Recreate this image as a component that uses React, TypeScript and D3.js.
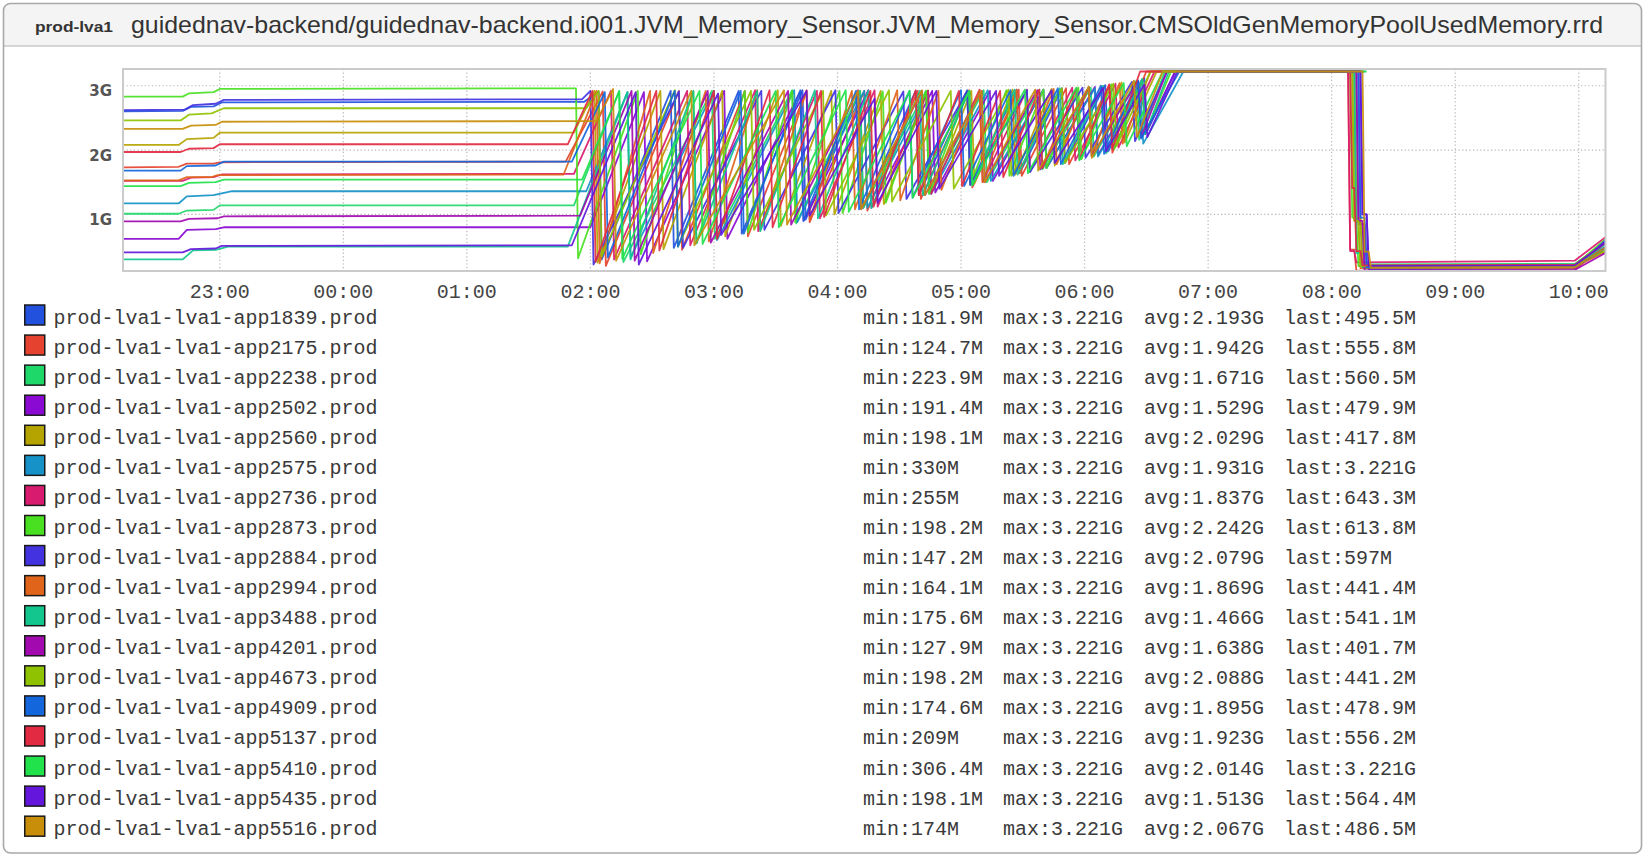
import React from 'react';
import * as d3 from 'd3';

// ---------- data ----------
const hostNames = [
  'prod-lva1-lva1-app1839.prod', 'prod-lva1-lva1-app2175.prod', 'prod-lva1-lva1-app2238.prod',
  'prod-lva1-lva1-app2502.prod', 'prod-lva1-lva1-app2560.prod', 'prod-lva1-lva1-app2575.prod',
  'prod-lva1-lva1-app2736.prod', 'prod-lva1-lva1-app2873.prod', 'prod-lva1-lva1-app2884.prod',
  'prod-lva1-lva1-app2994.prod', 'prod-lva1-lva1-app3488.prod', 'prod-lva1-lva1-app4201.prod',
  'prod-lva1-lva1-app4673.prod', 'prod-lva1-lva1-app4909.prod', 'prod-lva1-lva1-app5137.prod',
  'prod-lva1-lva1-app5410.prod', 'prod-lva1-lva1-app5435.prod', 'prod-lva1-lva1-app5516.prod',
];
const seriesColors = [
  '#2251de', '#e5432f', '#1fd86a', '#8a0ad4', '#b5a300', '#1692c8',
  '#d81b6e', '#4ae022', '#4232e0', '#e0641a', '#12c68e', '#a20ab0',
  '#8fc200', '#1466dd', '#e22a42', '#22e24c', '#6416dc', '#c88e0a',
];
const minLabels = ['181.9M', '124.7M', '223.9M', '191.4M', '198.1M', '330M', '255M', '198.2M', '147.2M',
  '164.1M', '175.6M', '127.9M', '198.2M', '174.6M', '209M', '306.4M', '198.1M', '174M'];
const maxLabels = ['3.221G', '3.221G', '3.221G', '3.221G', '3.221G', '3.221G', '3.221G', '3.221G', '3.221G',
  '3.221G', '3.221G', '3.221G', '3.221G', '3.221G', '3.221G', '3.221G', '3.221G', '3.221G'];
const avgLabels = ['2.193G', '1.942G', '1.671G', '1.529G', '2.029G', '1.931G', '1.837G', '2.242G', '2.079G',
  '1.869G', '1.466G', '1.638G', '2.088G', '1.895G', '1.923G', '2.014G', '1.513G', '2.067G'];
const lastLabels = ['495.5M', '555.8M', '560.5M', '479.9M', '417.8M', '3.221G', '643.3M', '613.8M', '597M',
  '441.4M', '541.1M', '401.7M', '441.2M', '478.9M', '556.2M', '3.221G', '564.4M', '486.5M'];

const hourTicks = ['23:00', '00:00', '01:00', '02:00', '03:00', '04:00', '05:00', '06:00', '07:00', '08:00', '09:00', '10:00'];
const yTickValues = [1, 2, 3];
const yTickLabels = ['1G', '2G', '3G'];

// series points: [minutes since 22:00, value in G], flattened
const s1839 = [13,2.60, 42,2.61, 46,2.67, 57,2.68, 61,2.74, 237,2.75, 244,2.91, 245.5,0.30, 279,2.92, 280.5,0.48, 312,2.92, 313.5,0.70, 343,2.93, 344.5,0.92, 371,2.92, 372.5,1.10, 398,2.92, 399.5,1.30, 423,2.93, 424.5,1.46, 447,2.94, 448.5,1.64, 469,2.96, 470.5,1.80, 490,3.01, 491.5,1.98, 509,3.12, 510.5,2.30, 524,3.221, 612,3.221, 613,0.85, 615,0.85, 616,0.182, 718,0.19, 733,0.4955];
const s2175 = [13,1.73, 40,1.74, 44,1.79, 57,1.79, 60,1.81, 228,1.82, 246,2.91, 247.5,0.20, 283,2.92, 284.5,0.45, 315,2.92, 316.5,0.66, 345,2.93, 346.5,0.88, 373,2.92, 374.5,1.06, 399,2.92, 400.5,1.24, 424,2.93, 425.5,1.42, 448,2.94, 449.5,1.60, 471,2.96, 472.5,1.78, 492,3.01, 493.5,1.96, 510,3.221, 608,3.221, 609,0.45, 611,0.45, 612,0.125, 718,0.13, 733,0.5558];
const s2238 = [13,1.01, 40,1.01, 44,1.06, 57,1.07, 60,1.14, 232,1.14, 254,2.92, 256,0.26, 299,2.92, 300.5,0.62, 338,2.93, 340,0.86, 371,2.92, 372.5,1.10, 403,2.92, 404.5,1.32, 431,2.93, 432.5,1.50, 458,2.94, 459.5,1.70, 483,2.97, 484.5,1.90, 505,3.07, 506.5,2.16, 519,3.221, 611,3.221, 612,0.90, 614,0.90, 615,0.224, 718,0.23, 733,0.5605];
const s2502 = [13,0.62, 40,0.62, 44,0.76, 58,0.77, 62,0.80, 240,0.80, 266,2.90, 267.5,0.27, 305,2.92, 306.5,0.62, 342,2.92, 343.5,0.90, 375,2.93, 376.5,1.10, 406,2.92, 407.5,1.34, 434,2.92, 435.5,1.52, 460,2.94, 461.5,1.72, 485,2.98, 486.5,1.92, 508,3.10, 509.5,2.25, 524,3.221, 613,3.221, 614,0.85, 616,0.85, 617,0.191, 718,0.20, 733,0.4799];
const s2560 = [13,2.08, 40,2.08, 44,2.17, 57,2.19, 60,2.27, 232,2.27, 242,2.92, 243.5,0.25, 274,2.92, 275.5,0.46, 304,2.92, 305.5,0.66, 331,2.93, 332.5,0.82, 357,2.92, 358.5,1.00, 381,2.92, 382.5,1.16, 404,2.93, 405.5,1.34, 425,2.92, 426.5,1.48, 445,2.94, 446.5,1.62, 464,2.95, 465.5,1.76, 482,2.98, 483.5,1.92, 498,3.05, 499.5,2.12, 515,3.221, 611,3.221, 612,0.95, 614,0.95, 615,0.198, 718,0.20, 733,0.4178];
const s2575 = [13,1.17, 40,1.17, 44,1.28, 57,1.30, 66,1.36, 238,1.36, 258,2.90, 259.5,0.33, 300,2.92, 301.5,0.60, 339,2.93, 340.5,0.88, 373,2.92, 374.5,1.10, 404,2.92, 405.5,1.32, 433,2.93, 434.5,1.52, 460,2.94, 461.5,1.72, 485,2.96, 486.5,1.90, 507,3.03, 508.5,2.10, 528,3.221, 616,3.221];
const s2736 = [13,1.52, 42,1.52, 46,1.57, 57,1.58, 61,1.62, 232,1.63, 250,2.92, 251.5,0.30, 287,2.92, 288.5,0.52, 320,2.93, 321.5,0.74, 350,2.92, 351.5,0.94, 378,2.93, 379.5,1.12, 404,2.92, 405.5,1.32, 429,2.94, 430.5,1.50, 452,2.94, 453.5,1.66, 474,2.97, 475.5,1.84, 495,3.03, 496.5,2.04, 514,3.221, 608,3.221, 609,0.43, 611,0.43, 612,0.255, 718,0.28, 733,0.6433];
const s2873 = [13,2.83, 42,2.83, 45,2.88, 57,2.90, 60,2.95, 233,2.96, 234,0.32, 263,2.92, 264.5,0.38, 290,2.91, 291.5,0.55, 315,2.92, 316.5,0.72, 338,2.92, 339.5,0.88, 361,2.92, 362.5,1.02, 382,2.91, 383.5,1.18, 403,2.92, 404.5,1.32, 423,2.92, 424.5,1.46, 442,2.93, 443.5,1.60, 460,2.94, 461.5,1.72, 477,2.97, 478.5,1.86, 493,3.02, 494.5,2.02, 508,3.10, 509.5,2.25, 522,3.221, 609,3.221, 610,0.95, 612,0.95, 613,0.198, 718,0.205, 733,0.614];
const s2884 = [13,2.62, 43,2.63, 47,2.70, 58,2.72, 62,2.78, 236,2.79, 240,2.92, 241.5,0.22, 283,2.91, 285,0.48, 323,2.92, 324.5,0.76, 359,2.93, 360.5,1.02, 392,2.91, 393.5,1.24, 423,2.92, 424.5,1.46, 452,2.93, 453.5,1.66, 479,2.97, 480.5,1.88, 503,3.06, 504.5,2.14, 520,3.221, 614,3.221, 615,1.00, 617,1.00, 618,0.147, 718,0.16, 733,0.597];
const s2994 = [13,1.53, 40,1.53, 44,1.58, 56,1.58, 59,1.61, 227,1.62, 243,2.92, 244.5,0.24, 269,2.92, 270.5,0.40, 296,2.92, 297.5,0.58, 321,2.93, 322.5,0.76, 345,2.92, 346.5,0.92, 367,2.92, 368.5,1.08, 389,2.93, 390.5,1.22, 409,2.92, 410.5,1.38, 429,2.93, 430.5,1.50, 447,2.94, 448.5,1.64, 465,2.95, 466.5,1.78, 482,2.98, 483.5,1.92, 497,3.04, 498.5,2.10, 512,3.221, 610,3.221, 611,0.90, 613,0.90, 614,0.164, 718,0.17, 733,0.4414];
const s3488 = [13,0.30, 42,0.30, 47,0.44, 58,0.45, 64,0.50, 229,0.50, 258,2.90, 259.5,0.30, 290,2.92, 291.5,0.55, 321,2.92, 322.5,0.74, 349,2.93, 350.5,0.94, 375,2.92, 376.5,1.10, 400,2.92, 401.5,1.30, 424,2.92, 425.5,1.45, 446,2.94, 447.5,1.62, 468,2.96, 469.5,1.78, 489,3.00, 490.5,1.95, 508,3.10, 509.5,2.25, 521,3.221, 611,3.221, 612,0.40, 614,0.40, 615,0.176, 718,0.18, 733,0.5411];
const s4201 = [13,0.89, 41,0.89, 45,0.93, 59,0.94, 62,0.97, 235,0.98, 260,2.92, 261.5,0.28, 297,2.92, 298.5,0.56, 336,2.92, 337.5,0.84, 370,2.93, 371.5,1.08, 401,2.92, 402.5,1.30, 430,2.92, 431.5,1.50, 457,2.93, 458.5,1.70, 482,2.97, 483.5,1.90, 506,3.08, 507.5,2.20, 520,3.221, 612,3.221, 613,0.90, 615,0.90, 616,0.128, 718,0.135, 733,0.4017];
const s4673 = [13,2.46, 41,2.46, 45,2.55, 56,2.57, 62,2.65, 238,2.65, 244,2.92, 245.5,0.35, 281,2.93, 282.5,0.50, 318,2.92, 319.5,0.76, 353,2.92, 354.5,0.98, 385,2.93, 386.5,1.20, 415,2.92, 416.5,1.40, 443,2.94, 444.5,1.60, 469,2.96, 470.5,1.80, 494,3.03, 495.5,2.06, 512,3.221, 610,3.221, 611,0.90, 613,0.90, 614,0.198, 718,0.205, 733,0.4412];
const s4909 = [13,1.68, 41,1.68, 44,1.75, 58,1.76, 62,1.82, 231,1.82, 247,2.90, 248.5,0.33, 281,2.92, 282.5,0.50, 313,2.92, 314.5,0.70, 342,2.93, 343.5,0.90, 369,2.92, 370.5,1.08, 395,2.92, 396.5,1.26, 420,2.93, 421.5,1.44, 444,2.93, 445.5,1.60, 467,2.96, 468.5,1.78, 488,3.00, 489.5,1.94, 506,3.08, 507.5,2.18, 526,3.221, 613,3.221, 614,0.95, 616,0.95, 617,0.175, 718,0.18, 733,0.4789];
const s5137 = [13,1.97, 41,1.97, 45,2.02, 57,2.03, 60,2.09, 229,2.09, 241,2.92, 242.5,0.26, 272,2.92, 273.5,0.44, 300,2.92, 301.5,0.62, 327,2.93, 328.5,0.80, 352,2.92, 353.5,0.96, 376,2.92, 377.5,1.12, 398,2.93, 399.5,1.30, 419,2.92, 420.5,1.44, 439,2.92, 440.5,1.58, 458,2.94, 459.5,1.72, 476,2.96, 477.5,1.86, 492,3.02, 493.5,2.02, 507,3.221, 609,3.221, 610,1.41, 611,1.41, 612,0.43, 614,0.43, 615,0.209, 718,0.215, 733,0.5562];
const s5410 = [13,1.44, 41,1.44, 45,1.49, 58,1.50, 62,1.54, 236,1.54, 254,2.91, 255.5,0.31, 293,2.92, 294.5,0.54, 330,2.92, 331.5,0.80, 364,2.93, 365.5,1.04, 395,2.92, 396.5,1.26, 424,2.92, 425.5,1.46, 451,2.94, 452.5,1.64, 476,2.97, 477.5,1.84, 499,3.04, 500.5,2.06, 518,3.221, 617,3.221];
const s5435 = [13,0.41, 42,0.41, 46,0.46, 58,0.47, 61,0.51, 231,0.52, 262,2.90, 263.5,0.22, 302,2.88, 303.5,0.68, 345,2.92, 346.5,0.98, 378,2.80, 379.5,1.18, 408,2.92, 409.5,1.40, 437,2.92, 438.5,1.60, 464,2.93, 465.5,1.80, 489,2.97, 490.5,1.98, 509,3.02, 510.5,2.20, 525,3.221, 614,3.221, 615,1.00, 617,1.00, 618,0.198, 718,0.205, 733,0.5644];
const s5516 = [13,2.33, 42,2.33, 46,2.38, 58,2.39, 61,2.44, 243,2.45, 251,2.95, 252.5,0.28, 289,2.92, 290.5,0.52, 334,2.93, 335.5,0.84, 370,2.92, 371.5,1.08, 401,2.93, 402.5,1.30, 430,2.92, 431.5,1.50, 456,2.94, 457.5,1.68, 482,2.98, 483.5,1.88, 504,3.08, 505.5,2.20, 518,3.221, 615,3.221, 616,0.42, 618,0.42, 619,0.174, 718,0.18, 733,0.4865];

const seriesPoints = [s1839, s2175, s2238, s2502, s2560, s2575, s2736, s2873, s2884,
  s2994, s3488, s4201, s4673, s4909, s5137, s5410, s5435, s5516];

// ---------- layout ----------
const W = 1646;
const H = 856;
const plot = { left: 123, right: 1605.5, top: 69, bottom: 271 };
const base = new Date(2016, 0, 1, 22, 0, 0);
const toDate = (m: number) => new Date(base.getTime() + m * 60000);
const startMin = 13;
const endMin = 733;
const parseTick = (s: string) => {
  const [h, mm] = s.split(':').map(Number);
  return ((h - 22 + 24) % 24) * 60 + mm;
};

const legendTop = 315;
const legendStep = 30.07;
const monoFont = '"Liberation Mono", "DejaVu Sans Mono", monospace';

export default function App() {
  const x = d3.scaleTime().domain([toDate(startMin), toDate(endMin)]).range([plot.left, plot.right]);
  const y = d3.scaleLinear().domain([0.12, 3.26]).range([plot.bottom, plot.top]);

  const line = d3
    .line<[number, number]>()
    .x((d) => x(toDate(d[0])))
    .y((d) => y(d[1]));

  const toPairs = (arr: number[]) => {
    const out: [number, number][] = [];
    for (let i = 0; i < arr.length; i += 2) out.push([arr[i], arr[i + 1]]);
    return out;
  };

  const statCols = [
    { x: 863, prefix: 'min:', labels: minLabels },
    { x: 1003, prefix: 'max:', labels: maxLabels },
    { x: 1144, prefix: 'avg:', labels: avgLabels },
    { x: 1284, prefix: 'last:', labels: lastLabels },
  ];

  return (
    <svg
      width={W}
      height={H}
      style={{ position: 'absolute', left: 0, top: 0, display: 'block', background: '#fff' }}
    >
      <defs>
        <clipPath id="plotClip">
          <rect x={plot.left} y={plot.top - 2} width={plot.right - plot.left} height={plot.bottom - plot.top + 2} />
        </clipPath>
      </defs>

      {/* panel */}
      <rect x={3.5} y={3.5} width={1638} height={849.5} rx={7} fill="#fff" stroke="none" />
      <path d="M3.5,46 V10.5 Q3.5,3.5 10.5,3.5 H1634.5 Q1641.5,3.5 1641.5,10.5 V46 Z" fill="#f4f4f4" />
      <line x1={3.5} x2={1641.5} y1={46} y2={46} stroke="#cacaca" strokeWidth={1.5} />
      <rect x={3.5} y={3.5} width={1638} height={849.5} rx={7} fill="none" stroke="#a9a9a9" strokeWidth={1.6} />

      {/* header text */}
      <text x={35} y={31.5} fontFamily='"Liberation Sans", Arial, sans-serif' fontSize={15.5} fontWeight="bold" fill="#333" textLength={78} lengthAdjust="spacingAndGlyphs">
        prod-lva1
      </text>
      <text x={131} y={33} fontFamily='"Liberation Sans", Arial, sans-serif' fontSize={24} fill="#333" textLength={1472} lengthAdjust="spacingAndGlyphs">
        guidednav-backend/guidednav-backend.i001.JVM_Memory_Sensor.JVM_Memory_Sensor.CMSOldGenMemoryPoolUsedMemory.rrd
      </text>

      {/* plot background */}
      <rect x={plot.left} y={plot.top} width={plot.right - plot.left} height={plot.bottom - plot.top} fill="#fff" />

      {/* grid */}
      {yTickValues.map((v) => (
        <line key={'gy' + v} x1={plot.left} x2={plot.right} y1={y(v)} y2={y(v)} stroke="#b4b4b4" strokeWidth={1.2} strokeDasharray="1.2 2.4" />
      ))}
      {hourTicks.map((t) => {
        const xx = x(toDate(parseTick(t)));
        return <line key={'gx' + t} x1={xx} x2={xx} y1={plot.top} y2={plot.bottom} stroke="#b4b4b4" strokeWidth={1.2} strokeDasharray="1.2 2.4" />;
      })}

      {/* series */}
      <g clipPath="url(#plotClip)">
        {seriesPoints.map((pts, i) => (
          <path
            key={hostNames[i]}
            d={line(toPairs(pts)) || ''}
            fill="none"
            stroke={seriesColors[i]}
            strokeWidth={1.8}
            strokeLinejoin="round"
            strokeOpacity={0.92}
          />
        ))}
      </g>

      {/* plot frame */}
      <rect x={plot.left} y={plot.top} width={plot.right - plot.left} height={plot.bottom - plot.top} fill="none" stroke="#cbcbcb" strokeWidth={2} />

      {/* y labels */}
      {yTickValues.map((v, i) => (
        <text key={'yl' + v} x={112} y={y(v) + 10.5} textAnchor="end" fontFamily='"DejaVu Sans", sans-serif' fontSize={15} fontWeight="bold" fill="#555">
          {yTickLabels[i]}
        </text>
      ))}

      {/* x labels */}
      {hourTicks.map((t) => (
        <text key={'xl' + t} x={x(toDate(parseTick(t)))} y={298} textAnchor="middle" fontFamily={monoFont} fontSize={20} fill="#444">
          {t}
        </text>
      ))}

      {/* legend */}
      {hostNames.map((name, i) => {
        const cy = legendTop + i * legendStep;
        return (
          <g key={'lg' + name}>
            <rect x={24.75} y={cy - 10} width={20} height={20} fill={seriesColors[i]} stroke="#1a1a1a" strokeWidth={1.5} />
            <text x={53.5} y={cy + 8.5} fontFamily={monoFont} fontSize={20} fill="#3a3a3a">
              {name}
            </text>
            {statCols.map((c) => (
              <text key={c.prefix} x={c.x} y={cy + 8.5} fontFamily={monoFont} fontSize={20} fill="#3a3a3a">
                {c.prefix + c.labels[i]}
              </text>
            ))}
          </g>
        );
      })}
    </svg>
  );
}
